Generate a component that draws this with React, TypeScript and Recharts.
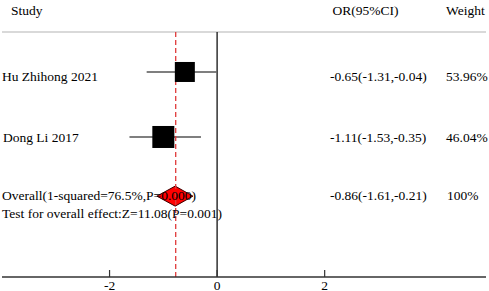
import React from 'react';
import { ComposedChart, XAxis, YAxis, Scatter, Area, ReferenceLine } from 'recharts';

// ---- data ----
const studyNames = ['Hu Zhihong 2021', 'Dong Li 2017'];
const studyOrLabels = ['-0.65(-1.31,-0.04)', '-1.11(-1.53,-0.35)'];
const studyWeights = ['53.96%', '46.04%'];
const studyEst = [-0.6, -1.0];
const studyLo = [-1.31, -1.63];
const studyHi = [-0.01, -0.3];
const studyRow = [1, 2];

const overallLabel = 'Overall(1-squared=76.5%,P=0.000)';
const overallOrLabel = '-0.86(-1.61,-0.21)';
const overallWeight = '100%';
const overallEst = -0.78;
const overallLo = -1.12;
const overallHi = -0.45;
const overallRow = 2.91;
const testLabel = 'Test for overall effect:Z=11.08(P=0.001)';

const refLineX = -0.77;
const xTicks = [-2, 0, 2];
const xDomain: [number, number] = [-4, 5];
const rowDomain: [number, number] = [0.385, 4.154];

const headers = { study: 'Study', or: 'OR(95%CI)', weight: 'Weight' };

// ---- styles ----
const squareSizes = [20, 22];
const diamondHalf = 0.154;
const FONT = '"Liberation Serif", "Times New Roman", serif';
const FS = 13.5;

const squareData = studyEst.map((x, i) => ({ x, y: studyRow[i], size: squareSizes[i] }));
const diamondData = [
  { x: overallLo, band: [overallRow, overallRow] },
  { x: overallEst, band: [overallRow - diamondHalf, overallRow + diamondHalf] },
  { x: overallHi, band: [overallRow, overallRow] },
];

const TickMark = (props: any) => {
  const { x, y, payload } = props;
  return (
    <g>
      <line x1={x} x2={x} y1={y - 7} y2={y} stroke="#333" strokeWidth={1.2} />
      <text x={x} y={y + 12.5} textAnchor="middle" fontFamily={FONT} fontSize={FS} fill="#000">
        {payload.value}
      </text>
    </g>
  );
};

const Square = (props: any) => {
  const { cx, cy, payload } = props;
  const s = payload.size;
  return <rect x={cx - s / 2} y={cy - s / 2} width={s} height={s} fill="#000" />;
};

const T = ({ x, y, children }: any) => (
  <text x={x} y={y} fontFamily={FONT} fontSize={FS} fill="#000">
    {children}
  </text>
);

export default function App() {
  const rowBase = [80.5, 142];
  return (
    <div style={{ position: 'absolute', left: 0, top: 0, width: 489, height: 291, background: '#fff' }}>
      <ComposedChart width={489} height={291} margin={{ top: 32, right: 3, bottom: 0, left: 2 }}>
        <XAxis
          type="number"
          dataKey="x"
          domain={xDomain}
          ticks={xTicks}
          interval={0}
          allowDataOverflow
          height={14}
          tickSize={0}
          tickMargin={0}
          tickLine={false}
          tick={<TickMark />}
          axisLine={{ stroke: '#333', strokeWidth: 1.3 }}
        />
        <YAxis type="number" dataKey="y" domain={rowDomain} reversed hide allowDataOverflow />
        <ReferenceLine y={rowDomain[0]} stroke="#b4b4b4" strokeWidth={1.2} />
        <ReferenceLine x={0} stroke="#222" strokeWidth={1.4} />
        {studyEst.map((_, i) => (
          <ReferenceLine
            key={i}
            segment={[
              { x: studyLo[i], y: studyRow[i] },
              { x: studyHi[i], y: studyRow[i] },
            ]}
            stroke="#555"
            strokeWidth={1.5}
          />
        ))}
        <Scatter data={squareData} shape={<Square />} isAnimationActive={false} />
        <Area
          data={diamondData}
          dataKey="band"
          type="linear"
          fill="#ff0000"
          fillOpacity={1}
          stroke="#3a0000"
          strokeWidth={1}
          isAnimationActive={false}
          dot={false}
          activeDot={false}
        />
        <ReferenceLine x={refLineX} stroke="#e03a3a" strokeWidth={1.3} strokeDasharray="5 3" />
      </ComposedChart>
      <svg width={489} height={291} style={{ position: 'absolute', left: 0, top: 0, pointerEvents: 'none' }}>
        <T x={11} y={15}>{headers.study}</T>
        <T x={332.5} y={15}>{headers.or}</T>
        <T x={446} y={15}>{headers.weight}</T>
        {studyNames.map((n, i) => (
          <g key={n}>
            <T x={i === 0 ? 2 : 3} y={rowBase[i]}>{n}</T>
            <T x={330} y={rowBase[i]}>{studyOrLabels[i]}</T>
            <T x={446} y={rowBase[i]}>{studyWeights[i]}</T>
          </g>
        ))}
        <T x={2} y={200}>{overallLabel}</T>
        <T x={330} y={199.5}>{overallOrLabel}</T>
        <T x={447} y={199.5}>{overallWeight}</T>
        <T x={2} y={218}>{testLabel}</T>
      </svg>
    </div>
  );
}
